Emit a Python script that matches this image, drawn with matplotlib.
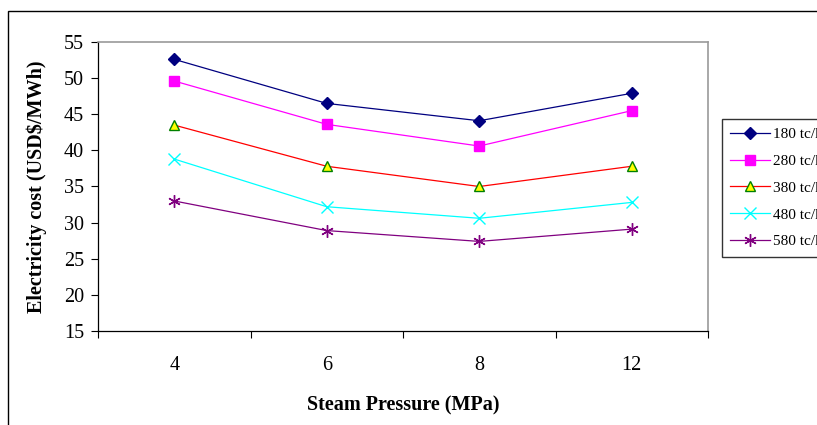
import numpy as np
import matplotlib.pyplot as plt
from matplotlib.patches import Rectangle

plt.rcParams['font.family'] = ['Liberation Serif', 'DejaVu Serif']

# data
pressure = ['4', '6', '8', '12']
cost_180 = [52.6, 46.5, 44.1, 47.9]
cost_280 = [49.6, 43.6, 40.6, 45.5]
cost_380 = [43.5, 37.8, 35.0, 37.8]
cost_480 = [38.8, 32.2, 30.6, 32.8]
cost_580 = [33.0, 28.9, 27.4, 29.1]
labels = ['180 tc/h', '280 tc/h', '380 tc/h', '480 tc/h', '580 tc/h']

fig = plt.figure(figsize=(8.17, 4.25), dpi=100)
ax = fig.add_axes([98/817, 1 - 331/425, 610/817, 289/425])

x = np.arange(len(pressure))
ax.plot(x, cost_180, color='#000080', lw=0.9, marker='D', ms=6,
        mfc='#000080', mec='#000080', label=labels[0])
ax.plot(x, cost_280, color='#FF00FF', lw=0.9, marker='s', ms=6.5,
        mfc='#FF00FF', mec='#FF00FF', label=labels[1])
ax.plot(x, cost_380, color='#FF0000', lw=0.9, marker='^', ms=7.5,
        mfc='#FFFF00', mec='#008000', mew=1.0, label=labels[2])
ax.plot(x, cost_480, color='#00FFFF', lw=0.9, marker='x', ms=8,
        mec='#00FFFF', mew=1.0, label=labels[3])
ax.plot(x, cost_580, color='#800080', lw=0.9, marker=(6, 2, 0), ms=9,
        mec='#800080', mew=1.0, label=labels[4])

ax.set_xlim(-0.5, len(pressure) - 0.5)
ax.set_ylim(15, 55)
ax.set_yticks(np.arange(15, 56, 5))
ax.set_xticks(x)
ax.set_xticklabels(pressure)
ax.set_xticks(np.arange(-0.5, len(pressure), 1), minor=True)
ax.tick_params(axis='x', which='major', length=0, pad=18, labelsize=14.5)
ax.tick_params(axis='x', which='minor', length=5, width=0.8, direction='out')
ax.tick_params(axis='y', length=5, width=0.8, direction='out', pad=5, labelsize=14.5)

for s in ['left', 'bottom']:
    ax.spines[s].set_color('black')
    ax.spines[s].set_linewidth(0.9)
for s in ['top', 'right']:
    ax.spines[s].set_color('#9a9a9a')
    ax.spines[s].set_linewidth(1.2)

ax.set_xlabel('Steam Pressure (MPa)', fontsize=14.5, fontweight='bold', labelpad=15)
ax.set_ylabel('Electricity cost (USD$/MWh)', fontsize=14.5, fontweight='bold', labelpad=12)

leg = fig.legend(loc='upper left', bbox_to_anchor=(722/817, 1 - 119/425),
                 fontsize=11, frameon=True, fancybox=False, handlelength=2.6,
                 handletextpad=0.2, labelspacing=0.86, borderpad=0.55,
                 borderaxespad=0)
leg.get_frame().set_edgecolor('black')
leg.get_frame().set_linewidth(1.0)

# outer chart frame
fig.patches.append(Rectangle((8/817, -0.1), 1.2, 1.1 - 11/425,
                             transform=fig.transFigure, fill=False,
                             edgecolor='black', lw=1.0))

fig.savefig('out.png', dpi=100)
